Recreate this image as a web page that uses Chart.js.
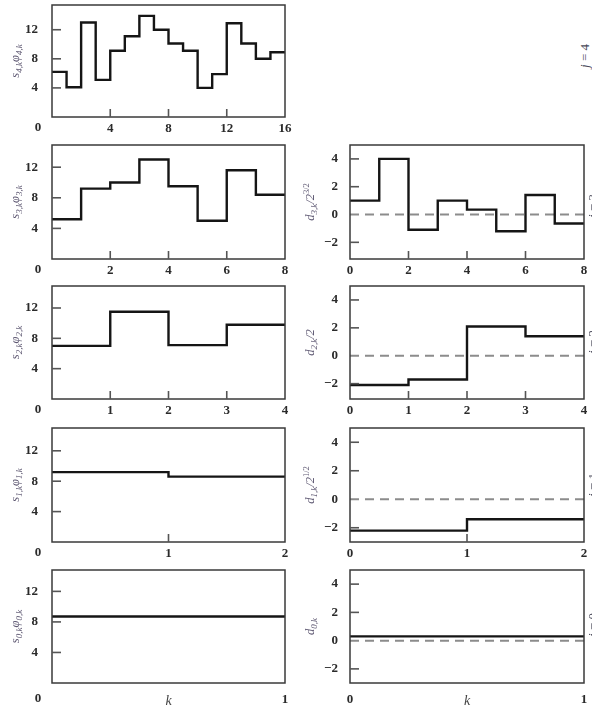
<!DOCTYPE html>
<html>
<head>
<meta charset="utf-8">
<script src="https://cdn.jsdelivr.net/npm/chart.js@4.4.0/dist/chart.umd.min.js"></script>
<style>
html, body { margin: 0; padding: 0; background: #fff; width: 592px; height: 708px; overflow: hidden; position: relative; }
.panel { position: absolute; }
.jlab { position: absolute; font-family: 'Liberation Serif', serif; font-size: 13px; color: #4a4a5a; white-space: nowrap;
        transform: translate(-50%, -50%) rotate(-90deg); }
</style>
</head>
<body>
<script>
// scaling coefficients s_{j,k} * phi_{j,k}, one per interval [k, k+1]
var s4 = [6.2, 4.1, 13.0, 5.1, 9.1, 11.1, 13.9, 12.0, 10.1, 9.1, 4.0, 5.9, 12.9, 10.1, 8.0, 8.9];
var s3 = [5.2, 9.2, 10.0, 13.0, 9.5, 5.0, 11.6, 8.4];
var s2 = [7.0, 11.5, 7.1, 9.8];
var s1 = [9.2, 8.6];
var s0 = [8.7];

// detail coefficients (scaled)
var d3 = [1.0, 4.0, -1.1, 1.0, 0.35, -1.2, 1.4, -0.65];
var d2 = [-2.1, -1.7, 2.1, 1.4];
var d1 = [-2.2, -1.4];
var d0 = [0.3];

// tick labels
var xTicks4 = [0, 4, 8, 12, 16];
var xTicks3 = [0, 2, 4, 6, 8];
var xTicks2 = [0, 1, 2, 3, 4];
var xTicks1 = [0, 1, 2];
var xTicks0 = [0, 1];
var sTicks = [4, 8, 12];
var dTicks = [-2, 0, 2, 4];
var jLabels = ['4', '3', '2', '1', '0'];

// axis titles: [text, 0 = normal, 1 = subscript, 2 = superscript]
var sTitles = [
    [['s', 0], ['4,k', 1], ['φ', 0], ['4,k', 1]],
    [['s', 0], ['3,k', 1], ['φ', 0], ['3,k', 1]],
    [['s', 0], ['2,k', 1], ['φ', 0], ['2,k', 1]],
    [['s', 0], ['1,k', 1], ['φ', 0], ['1,k', 1]],
    [['s', 0], ['0,k', 1], ['φ', 0], ['0,k', 1]]
];
var dTitles = [
    null,
    [['d', 0], ['3,k', 1], ['/2', 0], ['3/2', 2]],
    [['d', 0], ['2,k', 1], ['/2', 0]],
    [['d', 0], ['1,k', 1], ['/2', 0], ['1/2', 2]],
    [['d', 0], ['0,k', 1]]
];

var rowTop = [5, 145, 286, 428, 570];
var rowBottom = [117, 259, 399, 542, 683];
var sMax = [15.4, 14.9, 14.9, 15.0, 14.8];
var dMin = [-3.1, -3.2, -3.1, -3.0, -3.0];

var SERIF = "'Liberation Serif', 'DejaVu Serif', serif";

function stepPoints(vals) {
    var pts = [];
    vals.forEach(function (v, k) {
        pts.push({ x: k, y: v });
        pts.push({ x: k + 1, y: v });
    });
    return pts;
}

var decoPlugin = {
    id: 'deco',
    afterDatasetsDraw: function (chart, args, o) {
        var ctx = chart.ctx, a = chart.chartArea;
        var xs = chart.scales.x, ys = chart.scales.y;
        ctx.save();
        // frame
        ctx.strokeStyle = '#3a3a3a';
        ctx.lineWidth = 1.5;
        ctx.strokeRect(a.left, a.top, a.right - a.left, a.bottom - a.top);
        // inward tick marks
        ctx.strokeStyle = '#555';
        ctx.lineWidth = 1.6;
        ys.ticks.forEach(function (t) {
            if (t.value === 0) return;
            var py = ys.getPixelForValue(t.value);
            ctx.beginPath();
            ctx.moveTo(a.left, py);
            ctx.lineTo(a.left + 9, py);
            ctx.stroke();
        });
        xs.ticks.forEach(function (t) {
            if (t.value === xs.min || t.value === xs.max) return;
            var px = xs.getPixelForValue(t.value);
            ctx.beginPath();
            ctx.moveTo(px, a.bottom);
            ctx.lineTo(px, a.bottom - 8);
            ctx.stroke();
        });
        // corner zero of the left panels
        ctx.fillStyle = '#2a2a2a';
        if (o.zeroX) {
            ctx.font = 'bold 13px ' + SERIF;
            ctx.textAlign = 'center';
            ctx.textBaseline = 'top';
            ctx.fillText('0', o.zeroX, a.bottom + o.labelPad);
        }
        // k label
        if (o.showK) {
            ctx.fillStyle = '#444';
            ctx.font = 'italic 14px ' + SERIF;
            ctx.textAlign = 'center';
            ctx.textBaseline = 'top';
            ctx.fillText('k', (a.left + a.right) / 2, a.bottom + 11);
        }
        // rotated y title with sub/superscripts
        if (o.title) {
            var parts = o.title;
            var fonts = ['italic 12.5px ' + SERIF, 'italic 9px ' + SERIF, '8.5px ' + SERIF];
            var offs = [0, 3, -5];
            var total = 0;
            parts.forEach(function (p) { ctx.font = fonts[p[1]]; total += ctx.measureText(p[0]).width; });
            ctx.translate(o.titleX, (a.top + a.bottom) / 2);
            ctx.rotate(-Math.PI / 2);
            ctx.fillStyle = '#5e5872';
            ctx.textAlign = 'left';
            ctx.textBaseline = 'alphabetic';
            var x = -total / 2;
            parts.forEach(function (p) {
                ctx.font = fonts[p[1]];
                ctx.fillText(p[0], x, 4 + offs[p[1]]);
                x += ctx.measureText(p[0]).width;
            });
        }
        ctx.restore();
    }
};

function makePanel(cfg) {
    var padTop = 3, padRight = 12;
    var w = cfg.yW + (cfg.R - cfg.L) + padRight;
    var h = padTop + (cfg.B - cfg.T) + cfg.xH;
    var div = document.createElement('div');
    div.className = 'panel';
    div.style.left = (cfg.L - cfg.yW) + 'px';
    div.style.top = (cfg.T - padTop) + 'px';
    div.style.width = w + 'px';
    div.style.height = h + 'px';
    var cv = document.createElement('canvas');
    cv.width = w;
    cv.height = h;
    div.appendChild(cv);
    document.body.appendChild(div);

    var n = cfg.vals.length;
    var datasets = [{
        data: stepPoints(cfg.vals),
        borderColor: '#151515',
        borderWidth: 2.4,
        pointRadius: 0,
        borderJoinStyle: 'miter',
        borderCapStyle: 'butt',
        tension: 0
    }];
    if (cfg.zeroLine) {
        datasets.push({
            data: [{ x: 0, y: 0 }, { x: n, y: 0 }],
            borderColor: '#8c8c8c',
            borderWidth: 2,
            borderDash: [9, 6],
            pointRadius: 0
        });
    }
    var tickFont = { family: SERIF, size: 13, weight: 'bold' };

    new Chart(cv, {
        type: 'line',
        data: { datasets: datasets },
        options: {
            responsive: false,
            animation: false,
            layout: { padding: { top: padTop, right: padRight, left: 0, bottom: 0 } },
            plugins: {
                legend: { display: false },
                tooltip: { enabled: false },
                deco: { title: cfg.title, titleX: cfg.titleX, zeroX: cfg.zeroX, labelPad: cfg.labelPad, showK: cfg.showK }
            },
            scales: {
                x: {
                    type: 'linear',
                    min: 0,
                    max: n,
                    grid: { display: false, drawTicks: false },
                    border: { display: false },
                    afterBuildTicks: function (s) { s.ticks = cfg.xTicks.map(function (v) { return { value: v }; }); },
                    afterFit: function (s) {
                        s.height = cfg.xH;
                        s.paddingLeft = 0;
                        s.paddingRight = 0;
                    },
                    ticks: {
                        padding: cfg.labelPad,
                        autoSkip: false,
                        maxRotation: 0,
                        color: '#2a2a2a',
                        font: tickFont,
                        callback: function (v) { return (cfg.zeroX && v === 0) ? '' : String(v); }
                    }
                },
                y: {
                    min: cfg.yMin,
                    max: cfg.yMax,
                    grid: { display: false, drawTicks: false },
                    border: { display: false },
                    afterBuildTicks: function (s) { s.ticks = cfg.yTicks.map(function (v) { return { value: v }; }); },
                    afterFit: function (s) {
                        s.width = cfg.yW;
                        s.paddingTop = 0;
                        s.paddingBottom = 0;
                    },
                    ticks: {
                        padding: cfg.yPad,
                        color: '#2a2a2a',
                        font: tickFont,
                        callback: function (v) { return v < 0 ? '\u2212' + Math.abs(v) : String(v); }
                    }
                }
            }
        },
        plugins: [decoPlugin]
    });
}

var sVals = [s4, s3, s2, s1, s0];
var dVals = [null, d3, d2, d1, d0];
var xTickSets = [xTicks4, xTicks3, xTicks2, xTicks1, xTicks0];

for (var r = 0; r < 5; r++) {
    var last = (r === 4);
    makePanel({
        L: 52, R: 285, T: rowTop[r], B: rowBottom[r], yW: 52, xH: last ? 30 : 24,
        labelPad: last ? 9 : 4, yPad: 14,
        vals: sVals[r], xTicks: xTickSets[r], yMin: 0, yMax: sMax[r], yTicks: sTicks,
        zeroLine: false, title: sTitles[r], titleX: 15, zeroX: 38, showK: last
    });
    if (dVals[r]) {
        makePanel({
            L: 350, R: 584, T: rowTop[r], B: rowBottom[r], yW: 50, xH: last ? 30 : 24,
            labelPad: last ? 9 : 4, yPad: 12,
            vals: dVals[r], xTicks: xTickSets[r], yMin: dMin[r], yMax: 5, yTicks: dTicks,
            zeroLine: true, title: dTitles[r], titleX: 10, zeroX: 0, showK: last
        });
    }
}

// level labels at the right edge
var jPos = [[585, 56], [593, 206], [593, 342], [593, 485], [593, 625]];
jLabels.forEach(function (t, i) {
    var el = document.createElement('div');
    el.className = 'jlab';
    el.innerHTML = '<i>j</i> = ' + t;
    el.style.left = jPos[i][0] + 'px';
    el.style.top = jPos[i][1] + 'px';
    document.body.appendChild(el);
});
</script>
</body>
</html>
